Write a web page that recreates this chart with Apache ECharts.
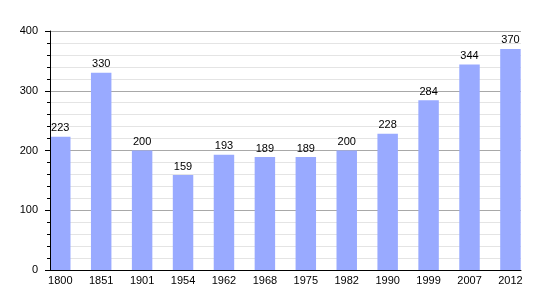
<!DOCTYPE html>
<html>
<head>
<meta charset="utf-8">
<script src="https://cdn.jsdelivr.net/npm/echarts@6/dist/echarts.min.js"></script>
<style>html,body{margin:0;padding:0;background:#fff}#c{width:550px;height:300px}</style>
</head>
<body>
<div id="c"></div>
<script>
const years = ['1800','1851','1901','1954','1962','1968','1975','1982','1990','1999','2007','2012'];
const population = [223, 330, 200, 159, 193, 189, 189, 200, 228, 284, 344, 370];
const yTicks = [0, 100, 200, 300, 400];

const font = 'Liberation Sans, Arial, sans-serif';
const chart = echarts.init(document.getElementById('c'), null, {renderer: 'canvas'});
chart.setOption({
  animation: false,
  backgroundColor: '#fff',
  grid: [
    {left: 50, right: 29, top: 31, bottom: 30},
    {left: 39.8, right: 19.1, top: 31, bottom: 30}
  ],
  xAxis: [
    {gridIndex: 0, type: 'category', data: years, boundaryGap: true,
     axisLine: {show: true, lineStyle: {color: '#000', width: 1}},
     axisTick: {show: false}, axisLabel: {show: false}, splitLine: {show: false}, z: 5},
    {gridIndex: 1, type: 'category', data: years, boundaryGap: true,
     axisLine: {show: false}, axisTick: {show: false},
     axisLabel: {color: '#000', fontSize: 11, fontFamily: font, margin: 5, interval: 0},
     splitLine: {show: false}}
  ],
  yAxis: [
    {gridIndex: 0, type: 'value', min: 0, max: 400, interval: 100,
     axisLine: {show: false}, axisTick: {show: false}, axisLabel: {show: false},
     splitLine: {show: true, lineStyle: {color: '#a8a8a8', width: 1}},
     minorTick: {show: false, splitNumber: 5},
     minorSplitLine: {show: true, lineStyle: {color: '#e4e4e4', width: 1}}, z: 0},
    {gridIndex: 1, type: 'value', min: 0, max: 400, interval: 100, show: false,
     splitLine: {show: false}},
    {gridIndex: 0, type: 'value', min: 0, max: 400, interval: 100, position: 'left',
     axisLine: {show: true, lineStyle: {color: '#000', width: 1}},
     axisTick: {show: true, length: 5, lineStyle: {color: '#000'}},
     minorTick: {show: true, splitNumber: 5, length: 3, lineStyle: {color: '#000'}},
     axisLabel: {color: '#000', fontSize: 11, fontFamily: font, margin: 12,
       formatter: v => yTicks.includes(v) ? String(v) : ''},
     splitLine: {show: false}, minorSplitLine: {show: false}, z: 5}
  ],
  series: [{
    type: 'bar', xAxisIndex: 1, yAxisIndex: 1, data: population,
    barWidth: '50%',
    itemStyle: {color: '#99aaff'},
    label: {show: true, position: 'top', distance: 3, color: '#000', fontSize: 11, fontFamily: font}
  }]
});
</script>
</body>
</html>
